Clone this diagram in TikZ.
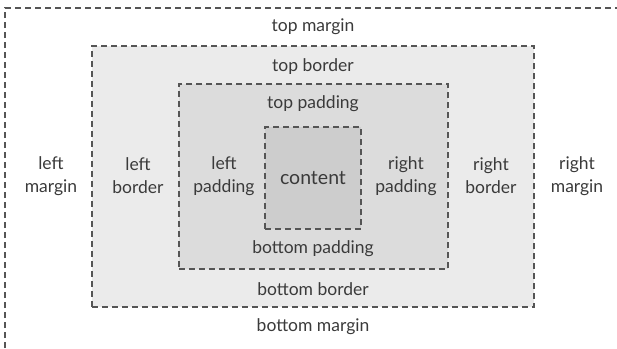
\documentclass[tikz,border=0pt]{standalone}
\usepackage{fontspec}
\setmainfont{Lato}
\usepackage{tikz}
\usetikzlibrary{positioning}
\definecolor{borderfill}{HTML}{EBEBEB}
\definecolor{paddingfill}{HTML}{DCDCDC}
\definecolor{contentfill}{HTML}{CDCDCD}
\definecolor{dashgray}{HTML}{555555}
\definecolor{textgray}{HTML}{3A3A3A}

\begin{document}
\begin{tikzpicture}[
      x=1pt, y=-1pt,
      edge/.style={draw=dashgray, line width=1.5pt, dash pattern=on 6pt off 4pt},
      area/.style={edge, rectangle, inner sep=0pt},
      lbl/.style={align=center, text=textgray, font=\fontsize{17.5}{23}\selectfont, inner sep=0pt}
    ]
    \useasboundingbox (0,0) rectangle (617,348);
    % margin edge
    \draw[edge] (5,348) -- (5,8) -- (617,8);
    % nested boxes
    \node[area, fill=borderfill, minimum width=442pt, minimum height=261pt] (border) at (313,176.5) {};
    \node[area, fill=paddingfill, minimum width=269pt, minimum height=185pt] (padding) at (313.5,176.5) {};
    \node[area, fill=contentfill, minimum width=96pt, minimum height=102pt] (content) at (313,178) {};
    % labels
    \node[lbl, font=\fontsize{19.5}{23}\selectfont] (content text) at (313,178) {content};
    \node[lbl] (top margin) at (313,27) {top margin};
    \node[lbl] (top border) at (313,67) {top border};
    \node[lbl] (top padding) at (313,104) {top padding};
    \node[lbl] (bottom padding) at (313,249) {bottom padding};
    \node[lbl] (bottom border) at (313,289) {bottom border};
    \node[lbl] (bottom margin) at (313,327) {bottom margin};
    \node[lbl] (left margin) at (51,176) {left\\margin};
    \node[lbl] (left border) at (138,176) {left\\border};
    \node[lbl] (left padding) at (224,176) {left\\padding};
    \node[lbl] (right padding) at (406,176) {right\\padding};
    \node[lbl] (right border) at (491,176) {right\\border};
    \node[lbl] (right margin) at (577,176) {right\\margin};
  \end{tikzpicture}
\end{document}
